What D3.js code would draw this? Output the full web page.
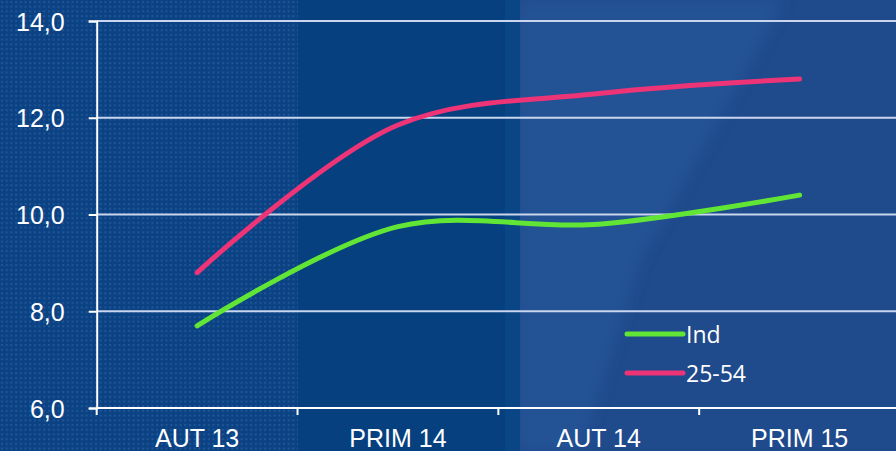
<!DOCTYPE html>
<html>
<head>
<meta charset="utf-8">
<script src="https://cdn.jsdelivr.net/npm/d3@7"></script>
<style>
  html, body { margin: 0; padding: 0; background: #06407f; overflow: hidden; }
  svg { display: block; }
</style>
</head>
<body>
<div id="chart"></div>
<script>
// data
var categories = ["AUT 13", "PRIM 14", "AUT 14", "PRIM 15"];
var ind = [7.7, 9.75, 9.8, 10.4];
var age2554 = [8.8, 11.85, 12.5, 12.8];
var yTicks = [6, 8, 10, 12, 14];
var seriesNames = ["Ind", "25-54"];

(function(){
    var width = 896, height = 451;
    var left = 96.7, right = 900, top = 21, bottom = 408;

    var svg = d3.select("#chart").append("svg")
	.attr("width", width)
	.attr("height", height);

    //background panels
    var defs = svg.append("defs");
    var pat = defs.append("pattern")
	.attr("id", "dots")
	.attr("width", 4.7).attr("height", 4.7)
	.attr("patternUnits", "userSpaceOnUse");
    pat.append("rect").attr("width", 4.7).attr("height", 4.7).attr("fill", "#0a4284");
    pat.append("rect").attr("x", 1).attr("y", 1).attr("width", 2).attr("height", 2)
	.attr("fill", "#2a5c9a").attr("opacity", 0.75);
    var blur = defs.append("filter").attr("id", "soft");
    blur.append("feGaussianBlur").attr("stdDeviation", 8);

    svg.append("rect").attr("width", width).attr("height", height).attr("fill", "#06407f");
    svg.append("rect").attr("x", 0).attr("y", 0).attr("width", 298).attr("height", height)
	.attr("fill", "url(#dots)");
    svg.append("rect").attr("x", 518).attr("y", 0).attr("width", width - 518).attr("height", height)
	.attr("fill", "#1f4a8c");
    svg.append("polygon")
	.attr("points", "518,0 785,0 640,260 580,451 518,451")
	.attr("fill", "#2b5fa0").attr("opacity", 0.45)
	.attr("filter", "url(#soft)");
    svg.append("rect").attr("x", 505).attr("y", 0).attr("width", 15).attr("height", height)
	.attr("fill", "#0a4585");

    //scales
    var x = d3.scaleBand().domain(categories).range([left, right]);
    var y = d3.scaleLinear().domain([6, 14]).range([bottom, top]);

    //grid
    svg.append("g").selectAll("line")
	.data(yTicks.filter(function(d){ return d > 6; }))
	.enter().append("line")
	.attr("x1", left).attr("x2", width)
	.attr("y1", function(d){ return y(d); })
	.attr("y2", function(d){ return y(d); })
	.attr("stroke", "#c9d6ee").attr("stroke-width", 2);

    //y axis
    var yAxis = d3.axisLeft(y).tickValues(yTicks).tickSize(8).tickPadding(24)
	.tickFormat(function(d){ return d3.format(".1f")(d).replace(".", ","); });
    var gy = svg.append("g").attr("transform", "translate(" + left + ",0)").call(yAxis);
    gy.select(".domain").attr("stroke", "#fff").attr("stroke-width", 2);
    gy.selectAll(".tick line").attr("stroke", "#fff").attr("stroke-width", 2);
    gy.selectAll(".tick text")
	.attr("fill", "#fff")
	.attr("dy", "0.36em")
	.style("font-family", "'Liberation Sans', Arial, sans-serif")
	.style("font-size", "25px");

    //x axis
    var xAxis = d3.axisBottom(x).tickSize(0).tickPadding(0);
    var gx = svg.append("g").attr("transform", "translate(0," + bottom + ")").call(xAxis);
    gx.select(".domain").remove();
    gx.append("line").attr("x1", left).attr("x2", width).attr("stroke", "#fff").attr("stroke-width", 2);
    gx.selectAll(".xtick").data(d3.range(categories.length + 1))
	.enter().append("line")
	.attr("x1", function(i){ return left + i * x.step(); })
	.attr("x2", function(i){ return left + i * x.step(); })
	.attr("y1", 0).attr("y2", 7)
	.attr("stroke", "#fff").attr("stroke-width", 2);
    gx.selectAll(".tick text")
	.attr("fill", "#fff")
	.attr("y", 39).attr("dy", 0)
	.style("font-family", "'Liberation Sans', Arial, sans-serif")
	.style("font-size", "25px");

    //lines
    var line = d3.line()
	.x(function(d, i){ return x(categories[i]) + x.bandwidth() / 2; })
	.y(function(d){ return y(d); })
	.curve(d3.curveCatmullRom.alpha(0.5));

    var series = [
	{name: seriesNames[0], values: ind, color: "#62e636"},
	{name: seriesNames[1], values: age2554, color: "#ec3477"}
    ];

    svg.append("g").selectAll("path")
	.data(series).enter().append("path")
	.attr("d", function(s){ return line(s.values); })
	.attr("fill", "none")
	.attr("stroke", function(s){ return s.color; })
	.attr("stroke-width", 5)
	.attr("stroke-linecap", "round");

    //legend
    var legend = svg.append("g").selectAll("g")
	.data(series).enter().append("g")
	.attr("transform", function(s, i){ return "translate(627," + (334 + i * 39) + ")"; });
    legend.append("line")
	.attr("x1", 0).attr("x2", 56)
	.attr("stroke", function(s){ return s.color; })
	.attr("stroke-width", 5)
	.attr("stroke-linecap", "round");
    legend.append("text")
	.attr("x", 59).attr("y", 8.5)
	.attr("fill", "#fff")
	.style("font-family", "'Open Sans', sans-serif")
	.style("font-size", "23px")
	.text(function(s){ return s.name; });
})();
</script>
</body>
</html>
